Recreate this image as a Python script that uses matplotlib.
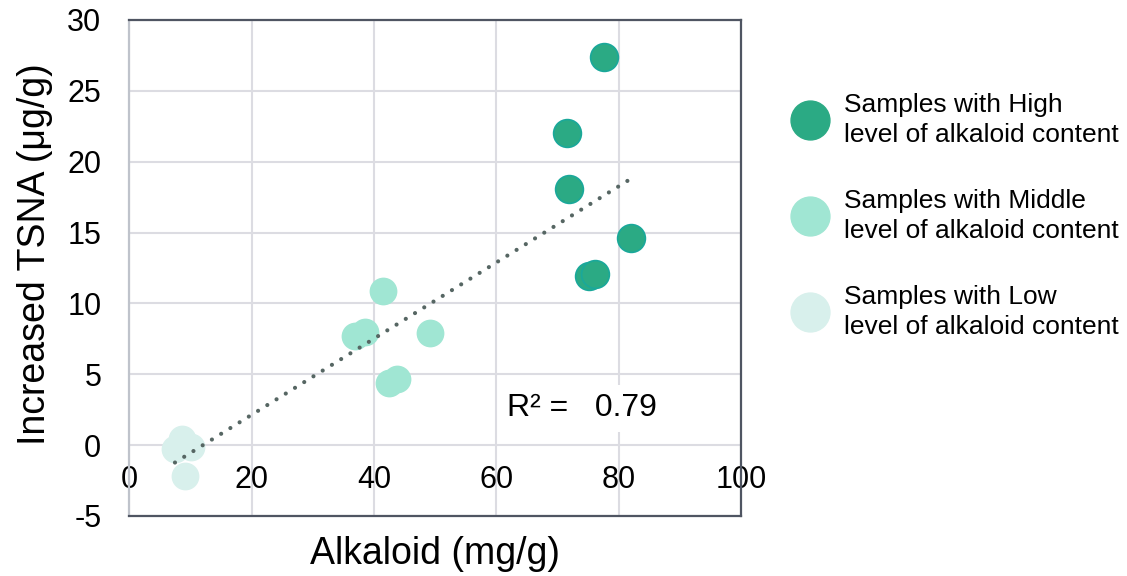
import numpy as np
import matplotlib.pyplot as plt
from matplotlib.lines import Line2D

plt.rcParams["font.family"] = ["Liberation Sans", "DejaVu Sans"]
plt.rcParams["axes.unicode_minus"] = False

# Alkaloid (mg/g) vs increased TSNA (ug/g), grouped by alkaloid level
high_x = [77.5, 71.5, 71.8, 81.9, 75.2, 76.1]
high_y = [27.4, 22.0, 18.1, 14.6, 11.9, 12.1]
mid_x = [41.4, 36.9, 38.6, 49.1, 42.4, 43.7]
mid_y = [10.9, 7.7, 8.0, 7.9, 4.4, 4.7]
low_x = [7.5, 8.6, 10.2, 9.1]
low_y = [-0.3, 0.4, -0.1, -2.2]

labels = [
    "Samples with High\nlevel of alkaloid content",
    "Samples with Middle\nlevel of alkaloid content",
    "Samples with Low\nlevel of alkaloid content",
]
r2_text = "R² =   0.79"

fig = plt.figure(figsize=(11.27, 5.76), dpi=100)
ax = fig.add_axes([0.1145, 0.1042, 0.5433, 0.8611])

ax.scatter(high_x, high_y, s=400, color="#2BAA84", edgecolor="#1AA89A",
           linewidth=1.2, zorder=3)
ax.scatter(mid_x, mid_y, s=400, color="#A0E6D3", linewidth=0, zorder=3)
ax.scatter(low_x, low_y, s=400, color="#D8F0EC", linewidth=0, zorder=3)

# linear trendline over all samples
all_x = np.array(high_x + mid_x + low_x)
all_y = np.array(high_y + mid_y + low_y)
slope, intercept = np.polyfit(all_x, all_y, 1)
tx = np.array([all_x.min(), all_x.max()])
ax.plot(tx, slope * tx + intercept, color="#566663", lw=3,
        linestyle=(0, (0.01, 2.6)), dash_capstyle="round", zorder=4)

ax.text(61.8, 2.6, r2_text, fontsize=23, va="center", ha="left",
        bbox=dict(facecolor="white", edgecolor="none", pad=6), zorder=2)

ax.set_xlim(0, 100)
ax.set_ylim(-5, 30)
ax.set_xticks(np.arange(0, 101, 20))
ax.set_yticks(np.arange(-5, 31, 5))
ax.grid(True, color="#DCDCE2", lw=1.5, zorder=0)
ax.set_axisbelow(True)

# x labels sit on the y=0 line, like Excel
ax.spines["bottom"].set_position(("data", 0))
ax.spines["bottom"].set_visible(False)
ax.add_line(Line2D([0, 1], [0, 0], transform=ax.transAxes, color="#4F5562",
                   lw=1.6, clip_on=False, zorder=5))
for side in ["top", "right"]:
    ax.spines[side].set_color("#4F5562")
    ax.spines[side].set_linewidth(1.6)
ax.spines["left"].set_color("#BFC3CB")
ax.spines["left"].set_linewidth(1.6)

ax.tick_params(axis="both", length=0, labelsize=22)
ax.tick_params(axis="x", pad=14)
ax.tick_params(axis="y", pad=20)

ax.set_xlabel("Alkaloid (mg/g)", fontsize=27)
ax.xaxis.set_label_coords(0.5, -0.04)
ax.set_ylabel("Increased TSNA (μg/g)", fontsize=27)
ax.yaxis.set_label_coords(-0.125, 0.527)

handles = [
    Line2D([], [], marker="o", ls="none", ms=28, color="#2BAA84"),
    Line2D([], [], marker="o", ls="none", ms=28, color="#A0E6D3"),
    Line2D([], [], marker="o", ls="none", ms=28, color="#D8F0EC"),
]
leg = fig.legend(handles, labels, loc="center left", bbox_to_anchor=(0.68, 0.625),
                 frameon=False, fontsize=19, labelspacing=1.6, handletextpad=0.55,
                 handlelength=1.5)
for t in leg.get_texts():
    t.set_linespacing(1.3)

fig.savefig("out.png", dpi=100)
